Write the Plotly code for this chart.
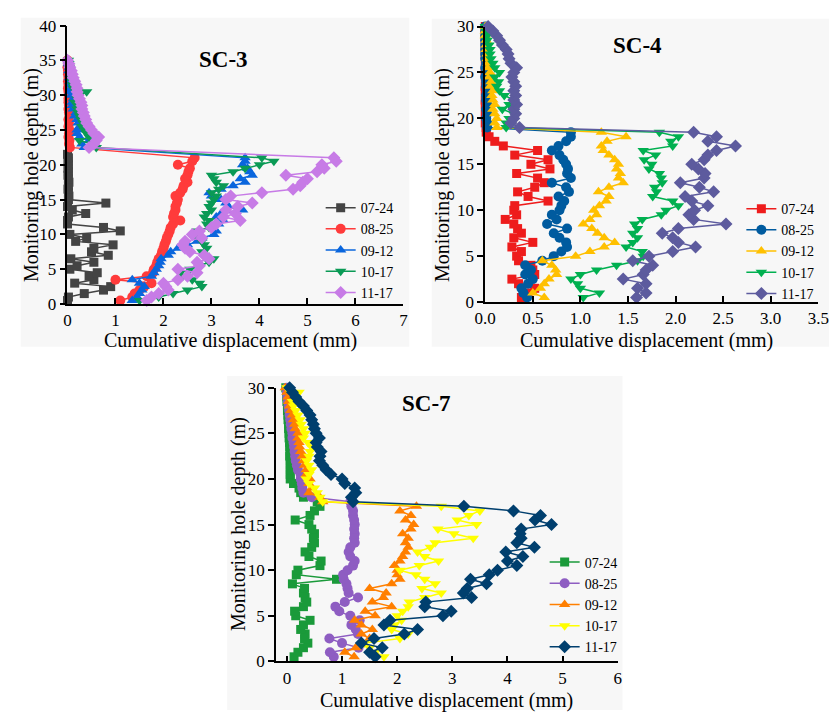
import plotly.graph_objects as go

# ---------------- data ----------------
dates = ["07-24", "08-25", "09-12", "10-17", "11-17"]

# SC-3
sc3_depth_0724 = [0.5, 1.0, 1.5, 2.0, 2.5, 3.0, 3.5, 4.0, 4.5, 5.0, 5.5, 6.0, 6.5, 7.0, 7.5, 8.0, 8.5, 9.0, 9.5, 10.0,
                  10.5, 11.0, 11.5, 12.0, 12.5, 13.0, 13.5, 14.0, 14.5, 15.0, 15.5, 16.0, 16.5, 17.0, 17.5, 18.0,
                  18.5, 19.0, 19.5, 20.0, 20.5, 21.0, 21.5]
sc3_depth = [0.5, 1.0, 1.5, 2.0, 2.5, 3.0, 3.5, 4.0, 4.5, 5.0, 5.5, 6.0, 6.5, 7.0, 7.5, 8.0, 8.5, 9.0, 9.5, 10.0,
             10.5, 11.0, 11.5, 12.0, 12.5, 13.0, 13.5, 14.0, 14.5, 15.0, 15.5, 16.0, 16.5, 17.0, 17.5, 18.0,
             18.5, 19.0, 19.5, 20.0, 20.5, 21.0,
             22.5, 23.0, 23.5, 24.0, 24.5, 25.0, 25.5, 26.0, 26.5, 27.0, 27.5, 28.0, 28.5, 29.0, 29.5, 30.0,
             30.5, 31.0, 31.5, 32.0, 32.5, 33.0, 33.5, 34.0, 34.5, 35.0]
sc3_0724 = [0.0, 0.02, 0.35, 0.75, 0.9, 0.15, 0.55, 0.45, 0.62, 0.05, 0.2, 0.55, 0.07, 0.85, 0.5, 0.55, 0.95, 0.17,
            0.4, 0.05, 1.1, 0.75, 0.0, 0.0, 0.02, 0.38, 0.1, 0.0, 0.8, 0.02, 0.03, 0.02, 0.01, 0.02, 0.03, 0.02,
            0.01, 0.02, 0.01, 0.02, 0.01, 0.02, 0.0]
sc3_0825 = [1.1, 1.35, 1.4, 1.5, 1.6, 1.75, 1.0, 1.65, 1.78, 1.8, 1.85, 1.87, 1.9, 1.95, 1.97, 2.0, 2.02, 2.05, 2.07,
            2.1, 2.13, 2.15, 2.2, 2.35, 2.2, 2.22, 2.25, 2.25, 2.28, 2.3, 2.25, 2.35, 2.4, 2.42, 2.5, 2.45, 2.5,
            2.52, 2.55, 2.3, 2.6, 2.65,
            0.05, 0.03, 0.04, 0.02, 0.03, 0.04, 0.02, 0.03, 0.02, 0.04, 0.03, 0.02, 0.03, 0.02, 0.02, 0.03, 0.02,
            0.01, 0.02, 0.01, 0.02, 0.01, 0.01, 0.0, 0.01, 0.0]
sc3_0912 = [1.35, 1.45, 1.5, 1.55, 1.6, 1.5, 1.35, 1.75, 1.8, 1.85, 1.9, 1.93, 1.95, 2.1, 2.15, 2.3, 2.5, 2.7, 2.8,
            3.05, 3.1, 2.95, 3.15, 3.25, 3.1, 3.2, 3.65, 3.35, 3.3, 3.2, 3.0, 2.95, 3.2, 3.45, 3.7, 3.6, 3.85, 3.8,
            3.75, 3.65, 3.7, 3.7,
            0.35, 0.3, 0.45, 0.25, 0.2, 0.2, 0.25, 0.22, 0.2, 0.15, 0.18, 0.12, 0.1, 0.1, 0.12, 0.08, 0.05, 0.07,
            0.06, 0.05, 0.04, 0.05, 0.03, 0.04, 0.02, 0.02]
sc3_1017 = [1.5, 1.9, 2.2, 2.5, 2.8, 2.75, 2.6, 2.4, 2.35, 2.55, 2.75, 2.95, 3.05, 2.85, 2.8, 2.9, 2.85, 2.8, 2.75,
            2.65, 2.7, 2.95, 2.9, 2.95, 2.85, 2.9, 3.0, 2.95, 3.0, 3.05, 3.1, 3.0, 3.15, 3.25, 3.1, 3.05, 3.0, 3.45,
            3.7, 4.0, 4.3, 4.05,
            0.6, 0.5, 0.25, 0.45, 0.4, 0.35, 0.3, 0.32, 0.28, 0.25, 0.22, 0.2, 0.22, 0.15, 0.2, 0.25, 0.4, 0.12,
            0.1, 0.09, 0.08, 0.06, 0.05, 0.04, 0.03, 0.02]
sc3_1117 = [1.65, 1.75, 1.9, 2.1, 2.05, 2.0, 2.3, 2.5, 2.7, 2.3, 2.75, 2.7, 2.95, 2.85, 2.55, 2.45, 2.4, 2.45, 2.8,
            2.6, 2.75, 3.0, 3.1, 3.6, 3.25, 3.5, 3.3, 3.55, 3.85, 3.3, 3.4, 4.05, 4.7, 4.85, 4.9, 5.0, 4.55, 5.2,
            5.35, 5.3, 5.6, 5.55,
            0.45, 0.55, 0.6, 0.65, 0.55, 0.5, 0.45, 0.4, 0.38, 0.35, 0.33, 0.3, 0.3, 0.28, 0.25, 0.22, 0.2, 0.2,
            0.18, 0.15, 0.12, 0.1, 0.08, 0.05, 0.03, 0.0]

# SC-4 and SC-7 share a 0.5 m depth grid up to 30 m
depth_30 = [0.5, 1.0, 1.5, 2.0, 2.5, 3.0, 3.5, 4.0, 4.5, 5.0, 5.5, 6.0, 6.5, 7.0, 7.5, 8.0, 8.5, 9.0, 9.5, 10.0,
            10.5, 11.0, 11.5, 12.0, 12.5, 13.0, 13.5, 14.0, 14.5, 15.0, 15.5, 16.0, 16.5, 17.0, 17.5, 18.0, 18.5,
            19.0, 19.5, 20.0, 20.5, 21.0, 21.5, 22.0, 22.5, 23.0, 23.5, 24.0, 24.5, 25.0, 25.5, 26.0, 26.5, 27.0,
            27.5, 28.0, 28.5, 29.0, 29.5, 30.0]

sc4_0724 = [0.38, 0.45, 0.52, 0.35, 0.28, 0.52, 0.5, 0.48, 0.35, 0.33, 0.38, 0.28, 0.5, 0.3, 0.38, 0.34, 0.3, 0.21,
            0.33, 0.3, 0.31, 0.66, 0.45, 0.34, 0.52, 0.62, 0.55, 0.33, 0.68, 0.48, 0.66, 0.31, 0.55, 0.19, 0.1,
            0.04, 0.01,
            0.01, 0.0, 0.01, 0.0, 0.01, 0.0, 0.0, 0.01, 0.0, 0.0, 0.01, 0.0, 0.0, 0.0, 0.01, 0.0, 0.0, 0.0, 0.0,
            0.0, 0.0, 0.0, 0.0]
sc4_0825 = [0.44, 0.4, 0.38, 0.45, 0.5, 0.42, 0.48, 0.42, 0.6, 0.72, 0.8, 0.86, 0.85, 0.78, 0.72, 0.86, 0.65, 0.75,
            0.7, 0.78, 0.8, 0.83, 0.77, 0.88, 0.85, 0.7, 0.9, 0.86, 0.87, 0.85, 0.82, 0.78, 0.7, 0.77, 0.85, 0.9,
            0.9,
            0.02, 0.02, 0.01, 0.02, 0.01, 0.02, 0.01, 0.01, 0.02, 0.01, 0.01, 0.0, 0.01, 0.0, 0.01, 0.0, 0.0, 0.0,
            0.0, 0.0, 0.0, 0.0, 0.0]
sc4_0912 = [0.62, 0.5, 0.58, 0.62, 0.67, 0.75, 0.74, 0.7, 0.6, 0.95, 1.1, 1.25, 1.36, 1.25, 1.18, 1.12, 1.03, 1.1,
            1.17, 1.14, 1.2, 1.27, 1.3, 1.19, 1.3, 1.45, 1.4, 1.42, 1.38, 1.4, 1.36, 1.3, 1.24, 1.22, 1.28, 1.48,
            1.22,
            0.12, 0.1, 0.12, 0.1, 0.08, 0.1, 0.08, 0.07, 0.08, 0.05, 0.06, 0.04, 0.05, 0.03, 0.03, 0.02, 0.02,
            0.01, 0.01, 0.01, 0.0, 0.0, 0.0]
sc4_1017 = [1.03, 1.2, 1.0, 0.97, 0.9, 1.0, 1.17, 1.38, 1.6, 1.66, 1.65, 1.48, 1.55, 1.6, 1.55, 1.6, 1.57, 1.65,
            1.85, 1.9, 2.03, 1.97, 1.76, 1.8, 1.78, 1.86, 1.85, 1.83, 1.72, 1.75, 1.67, 1.79, 1.66, 1.97, 1.95,
            2.03, 1.83,
            0.22, 0.22, 0.25, 0.3, 0.18, 0.25, 0.3, 0.2, 0.15, 0.12, 0.14, 0.1, 0.15, 0.1, 0.08, 0.06, 0.05, 0.05,
            0.04, 0.02, 0.02, 0.01, 0.0]
sc4_1117 = [1.59, 1.69, 1.6, 1.69, 1.45, 1.66, 1.69, 1.76, 1.55, 1.72, 1.97, 2.21, 2.03, 1.97, 1.86, 2.03, 2.53,
            2.19, 2.14, 2.2, 2.34, 2.17, 2.1, 2.4, 2.25, 2.05, 2.3, 2.31, 2.24, 2.17, 2.3, 2.34, 2.43, 2.63, 2.34,
            2.43, 2.19,
            0.36, 0.27, 0.3, 0.32, 0.3, 0.33, 0.3, 0.32, 0.3, 0.32, 0.3, 0.28, 0.3, 0.33, 0.27, 0.25, 0.24, 0.22,
            0.18, 0.15, 0.12, 0.08, 0.03]

sc7_0724 = [0.13, 0.2, 0.3, 0.38, 0.32, 0.33, 0.25, 0.3, 0.42, 0.16, 0.14, 0.3, 0.36, 0.33, 0.3, 0.32, 0.1, 0.9,
            0.17, 0.2, 0.6, 0.62, 0.4, 0.33, 0.45, 0.5, 0.48, 0.5, 0.45, 0.4, 0.15, 0.42, 0.5, 0.6, 0.55, 0.3,
            0.25, 0.22, 0.12, 0.06, 0.06, 0.06, 0.06, 0.06, 0.05, 0.06, 0.05, 0.05, 0.04, 0.04, 0.03, 0.03, 0.02,
            0.02, 0.01, 0.01, 0.0, 0.0, 0.0, -0.02]
sc7_0825 = [0.85, 0.78, 1.3, 1.0, 0.77, 1.29, 1.25, 1.17, 1.32, 1.15, 0.95, 0.88, 1.05, 1.29, 1.12, 1.1, 1.08, 1.03,
            1.02, 1.1, 1.2, 1.23, 1.15, 1.12, 1.15, 1.23, 1.22, 1.23, 1.22, 1.23, 1.22, 1.2, 1.2, 1.17, 1.15, 0.45,
            0.3, 0.28, 0.27, 0.25, 0.25, 0.2, 0.18, 0.16, 0.15, 0.14, 0.13, 0.12, 0.1, 0.1, 0.08, 0.07, 0.06, 0.05,
            0.04, 0.03, 0.02, 0.01, 0.0, 0.0]
sc7_0912 = [1.22, 1.05, 1.25, 1.35, 1.5, 1.35, 1.55, 1.35, 1.23, 1.6, 1.42, 1.9, 1.55, 1.75, 1.8, 1.5, 1.9, 2.05,
            2.0, 2.0, 1.95, 2.05, 2.1, 2.15, 2.2, 2.15, 2.2, 2.1, 2.25, 2.3, 2.15, 2.25, 2.05, 2.35, 0.65, 0.6,
            0.4, 0.45, 0.4, 0.42, 0.35, 0.35, 0.32, 0.3, 0.28, 0.25, 0.23, 0.22, 0.2, 0.2, 0.15, 0.14, 0.12, 0.1,
            0.07, 0.05, 0.03, 0.02, 0.0, -0.03]
sc7_1017 = [1.76, 1.6, 1.5, 1.41, 2.05, 2.2, 1.9, 1.95, 2.08, 2.0, 2.1, 2.2, 2.22, 2.5, 2.8, 2.45, 2.69, 2.5, 2.34,
            2.05, 2.4, 2.75, 2.5, 2.37, 2.6, 2.69, 3.38, 3.03, 2.74, 3.44, 3.09, 3.3, 3.5, 2.8, 0.65, 0.6, 0.55,
            0.5, 0.4, 0.35, 0.4, 0.45, 0.4, 0.36, 0.4, 0.42, 0.45, 0.38, 0.3, 0.33, 0.3, 0.26, 0.24, 0.2, 0.16,
            0.12, 0.1, 0.15, 0.22, 0.0]
sc7_1117 = [1.6, 1.5, 1.73, 1.35, 1.58, 2.13, 2.37, 1.76, 1.87, 2.83, 2.98, 2.5, 2.52, 3.35, 3.2, 3.27, 3.62, 3.33,
            3.67, 3.82, 4.17, 4.0, 4.28, 3.97, 4.49, 4.17, 4.25, 4.23, 4.25, 4.8, 4.5, 4.6, 4.11, 3.21, 1.2, 1.17,
            1.25, 1.23, 1.05, 1.0, 0.8, 0.71, 0.65, 0.59, 0.6, 0.62, 0.55, 0.53, 0.59, 0.53, 0.5, 0.48, 0.45, 0.42,
            0.36, 0.3, 0.22, 0.16, 0.1, 0.05]

# ---------------- styling / layout ----------------
W, H = 840, 722
FONT = "Liberation Serif, Times New Roman, serif"
BG = "#f7f7f7"


def fx(p):
    return p / W


def fy(p):
    return 1 - p / H


symbols = ["square", "circle", "triangle-up", "triangle-down", "diamond"]
sizes = [9, 10, 10, 10, 10]

panels = [
    dict(title="SC-3", ax="", box=(10, 9, 409, 347), plot=(58, 17, 403, 303),
         xr=[0, 7], xt=[0, 1, 2, 3, 4, 5, 6, 7], xfmt="d", yr=[0, 40], yt=[0, 5, 10, 15, 20, 25, 30, 35, 40],
         ttl=(218, 52), leg=(318, 188), ytl=(21, 170), xtl=(225, 340),
         colors=["#444444", "#ff3b3b", "#0a66dd", "#0a9a55", "#c77be6"],
         depths=[sc3_depth_0724, sc3_depth, sc3_depth, sc3_depth, sc3_depth],
         vals=[sc3_0724, sc3_0825, sc3_0912, sc3_1017, sc3_1117]),
    dict(title="SC-4", ax="2", box=(432, 10, 840, 347), plot=(487, 18, 829, 301),
         xr=[0, 3.5], xt=[0, 0.5, 1.0, 1.5, 2.0, 2.5, 3.0, 3.5], xfmt=".1f", yr=[0, 30],
         yt=[0, 5, 10, 15, 20, 25, 30],
         ttl=(643, 38), leg=(750, 189), ytl=(443, 170), xtl=(653, 340),
         colors=["#ee1c1c", "#005b9f", "#ffc000", "#00b050", "#5d5b9e"],
         depths=[depth_30] * 5,
         vals=[sc4_0724, sc4_0825, sc4_0912, sc4_1017, sc4_1117]),
    dict(title="SC-7", ax="3", box=(222, 377, 628, 720), plot=(272, 389, 623, 670),
         xr=[-0.2, 6], xt=[0, 1, 2, 3, 4, 5, 6], xfmt="d", yr=[0, 30], yt=[0, 5, 10, 15, 20, 25, 30],
         ttl=(427, 405), leg=(548, 552), ytl=(233, 529), xtl=(447, 710),
         colors=["#1a9a3a", "#8e5dc2", "#ff7f00", "#ffff00", "#003f6e"],
         depths=[depth_30] * 5,
         vals=[sc7_0724, sc7_0825, sc7_0912, sc7_1017, sc7_1117]),
]

fig = go.Figure()
shapes = []
annotations = []
layout = dict(
    width=W, height=H, margin=dict(l=0, r=0, t=0, b=0),
    paper_bgcolor="white", plot_bgcolor="rgba(0,0,0,0)",
    font=dict(family=FONT, size=16, color="black"),
)

for i, p in enumerate(panels):
    ax = p["ax"]
    xa = "x" + ax
    ya = "y" + ax
    legname = "legend" + ax
    x0, y0, x1, y1 = p["box"]
    shapes.append(dict(type="rect", xref="paper", yref="paper", x0=fx(x0), x1=fx(x1), y0=fy(y1), y1=fy(y0),
                       fillcolor=BG, line=dict(width=0), layer="below"))
    l, t, r, b = p["plot"]
    axis_common = dict(showline=True, linecolor="black", linewidth=1.5, showgrid=False, zeroline=False,
                       tickwidth=1.5, tickcolor="black", tickfont=dict(family=FONT, size=17, color="black"))
    layout["xaxis" + ax] = dict(axis_common, domain=[fx(l), fx(r)], range=p["xr"], tickvals=p["xt"],
                                tickformat=p["xfmt"], ticks="inside", ticklen=6, anchor=ya)
    layout["yaxis" + ax] = dict(axis_common, domain=[fy(b), fy(t)], range=p["yr"], tickvals=p["yt"],
                                ticks="outside", ticklen=6, anchor=xa)
    lx, ly = p["leg"]
    layout[legname] = dict(x=fx(lx), y=fy(ly), xanchor="left", yanchor="top", bgcolor="rgba(0,0,0,0)",
                           font=dict(family=FONT, size=14, color="black"), tracegroupgap=0,
                           itemwidth=30)
    for k in range(5):
        fig.add_trace(go.Scatter(
            x=p["vals"][k], y=p["depths"][k], name=dates[k], mode="lines+markers",
            xaxis=xa, yaxis=ya, legend=legname, cliponaxis=False,
            line=dict(color=p["colors"][k], width=1.5),
            marker=dict(symbol=symbols[k], size=sizes[k], color=p["colors"][k], line=dict(width=0)),
        ))
    tx, ty = p["ttl"]
    annotations.append(dict(text="<b>" + p["title"] + "</b>", xref="paper", yref="paper", x=fx(tx), y=fy(ty),
                            showarrow=False, xanchor="center", yanchor="middle",
                            font=dict(family=FONT, size=23, color="black")))
    yx, yy = p["ytl"]
    annotations.append(dict(text="Monitoring hole depth (m)", xref="paper", yref="paper", x=fx(yx), y=fy(yy),
                            showarrow=False, textangle=-90, xanchor="center", yanchor="middle",
                            font=dict(family=FONT, size=20, color="black")))
    xx, xy = p["xtl"]
    annotations.append(dict(text="Cumulative displacement (mm)", xref="paper", yref="paper", x=fx(xx), y=fy(xy),
                            showarrow=False, xanchor="center", yanchor="middle",
                            font=dict(family=FONT, size=20, color="black")))

layout["shapes"] = shapes
layout["annotations"] = annotations
fig.update_layout(**layout)
fig.write_html("out.html")
